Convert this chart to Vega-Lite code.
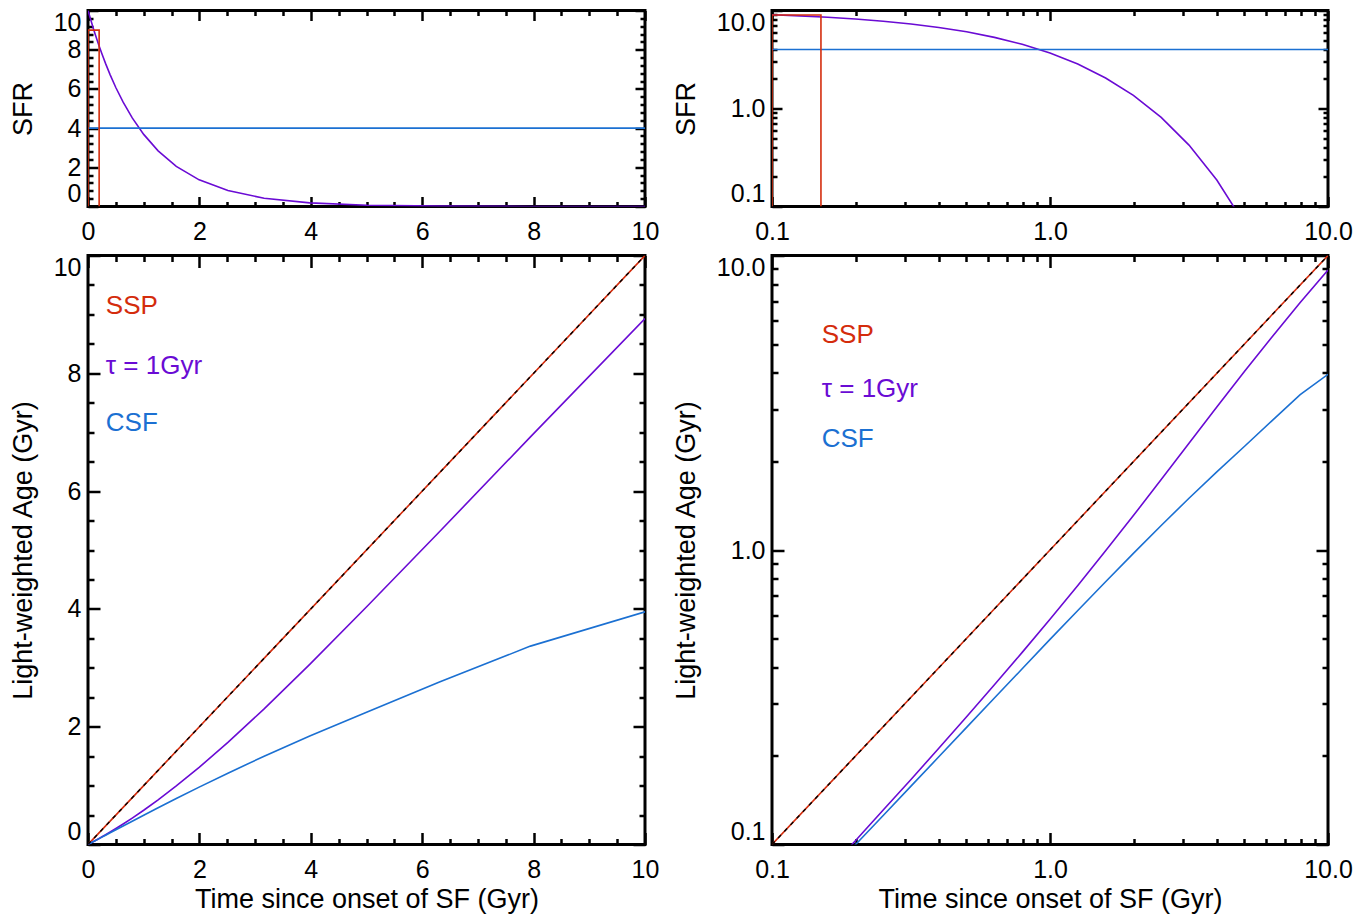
{
"$schema": "https://vega.github.io/schema/vega-lite/v6.json",
"padding": {"left": 7, "top": 7.5, "right": 5, "bottom": 5},
"background": "white",
"config": {
  "view": {"stroke": "black", "strokeWidth": 3},
  "axis": {"grid": false, "domain": false, "labelFont": "Liberation Sans", "labelFontSize": 25, "labelColor": "black",
           "titleFont": "Liberation Sans", "titleFontSize": 27, "titleFontWeight": "normal", "titleColor": "black",
           "tickColor": "black", "tickWidth": 2.5},
  "text": {"font": "Liberation Sans"}
},
"datasets": {
  "sfh": [
    {"model":"tau","t":0,"sfr":10},{"model":"tau","t":0.1,"sfr":9.048},{"model":"tau","t":0.1259,"sfr":8.817},{"model":"tau","t":0.1585,"sfr":8.534},
    {"model":"tau","t":0.1995,"sfr":8.191},{"model":"tau","t":0.2512,"sfr":7.779},{"model":"tau","t":0.3162,"sfr":7.289},{"model":"tau","t":0.3981,"sfr":6.716},
    {"model":"tau","t":0.5012,"sfr":6.058},{"model":"tau","t":0.631,"sfr":5.321},{"model":"tau","t":0.7943,"sfr":4.519},{"model":"tau","t":1.0,"sfr":3.679},
    {"model":"tau","t":1.2589,"sfr":2.84},{"model":"tau","t":1.5849,"sfr":2.05},{"model":"tau","t":1.9953,"sfr":1.36},{"model":"tau","t":2.5119,"sfr":0.811},
    {"model":"tau","t":3.1623,"sfr":0.4232},{"model":"tau","t":3.9811,"sfr":0.1866},{"model":"tau","t":5.0119,"sfr":0.0666},{"model":"tau","t":6.3096,"sfr":0.0182},
    {"model":"tau","t":7.9433,"sfr":0.00355},{"model":"tau","t":10,"sfr":0.000454},
    {"model":"CSF","t":0,"sfr":4},{"model":"CSF","t":0.1,"sfr":4},{"model":"CSF","t":10,"sfr":4}
  ],
  "box": [
    {"panel":"lin","i":1,"x":0,"y":0},{"panel":"lin","i":2,"x":0,"y":9},{"panel":"lin","i":3,"x":0.2,"y":9},{"panel":"lin","i":4,"x":0.2,"y":0},
    {"panel":"log","i":1,"x":0.1,"y":0.1},{"panel":"log","i":2,"x":0.1,"y":9},{"panel":"log","i":3,"x":0.15,"y":9},{"panel":"log","i":4,"x":0.15,"y":0.1}
  ],
  "age": [
    {"model":"SSP","t":0,"age":0},{"model":"SSP","t":0.1,"age":0.1},{"model":"SSP","t":1,"age":1},{"model":"SSP","t":10,"age":10},
    {"model":"tau","t":0,"age":0},{"model":"tau","t":0.1,"age":0.0508},{"model":"tau","t":0.1259,"age":0.0643},{"model":"tau","t":0.1585,"age":0.0814},
    {"model":"tau","t":0.1995,"age":0.103},{"model":"tau","t":0.2512,"age":0.1309},{"model":"tau","t":0.3162,"age":0.1663},{"model":"tau","t":0.3981,"age":0.2122},
    {"model":"tau","t":0.5012,"age":0.2715},{"model":"tau","t":0.631,"age":0.3485},{"model":"tau","t":0.7943,"age":0.4491},{"model":"tau","t":1,"age":0.582},
    {"model":"tau","t":1.2589,"age":0.758},{"model":"tau","t":1.5849,"age":0.9935},{"model":"tau","t":1.9953,"age":1.309},{"model":"tau","t":2.5119,"age":1.734},
    {"model":"tau","t":3.1623,"age":2.302},{"model":"tau","t":3.9811,"age":3.057},{"model":"tau","t":5.0119,"age":4.045},{"model":"tau","t":6.3096,"age":5.31},
    {"model":"tau","t":7.9433,"age":6.92},{"model":"tau","t":10,"age":8.93},
    {"model":"CSF","t":0,"age":0},{"model":"CSF","t":0.1,"age":0.05},{"model":"CSF","t":0.1259,"age":0.063},{"model":"CSF","t":0.1585,"age":0.079},
    {"model":"CSF","t":0.1995,"age":0.0998},{"model":"CSF","t":0.2512,"age":0.1254},{"model":"CSF","t":0.3162,"age":0.1578},{"model":"CSF","t":0.3981,"age":0.1985},
    {"model":"CSF","t":0.5012,"age":0.2498},{"model":"CSF","t":0.631,"age":0.3142},{"model":"CSF","t":0.7943,"age":0.3951},{"model":"CSF","t":1,"age":0.497},
    {"model":"CSF","t":1.2589,"age":0.623},{"model":"CSF","t":1.5849,"age":0.78},{"model":"CSF","t":1.9953,"age":0.974},{"model":"CSF","t":2.5119,"age":1.211},
    {"model":"CSF","t":3.1623,"age":1.499},{"model":"CSF","t":3.9811,"age":1.843},{"model":"CSF","t":5.0119,"age":2.25},{"model":"CSF","t":6.3096,"age":2.757},
    {"model":"CSF","t":7.9433,"age":3.368},{"model":"CSF","t":10,"age":3.95}
  ],
  "labels": [
    {"panel":"lin","model":"SSP","text":"SSP","x":0.32,"y":9.15},
    {"panel":"lin","model":"tau","text":"τ = 1Gyr","x":0.32,"y":8.12},
    {"panel":"lin","model":"CSF","text":"CSF","x":0.32,"y":7.15},
    {"panel":"log","model":"SSP","text":"SSP","x":0.151,"y":5.35},
    {"panel":"log","model":"tau","text":"τ = 1Gyr","x":0.151,"y":3.53},
    {"panel":"log","model":"CSF","text":"CSF","x":0.151,"y":2.39}
  ]
},
"columns": 2,
"spacing": {"row": 49, "column": 127},
"bounds": "flush",
"concat": [
  {
    "width": 557, "height": 196,
    "layer": [
      {"data": {"name": "sfh"}, "mark": {"type": "line", "clip": true, "strokeWidth": 1.6},
       "encoding": {
         "x": {"field": "t", "type": "quantitative", "scale": {"domain": [0, 10]},
               "axis": {"orient": "bottom", "values": [0,2,4,6,8,10], "format": "d", "ticks": false, "labelFlush": false, "labelPadding": 13, "title": null}},
         "y": {"field": "sfr", "type": "quantitative", "scale": {"domain": [0, 10]},
               "axis": {"orient": "left", "values": [0,2,4,6,8,10], "format": "d", "ticks": false, "labelFlush": true, "labelPadding": 7, "title": "SFR", "titlePadding": 16}},
         "color": {"field": "model", "type": "nominal", "scale": {"domain": ["SSP","tau","CSF"], "range": ["#d42c0c","#6a0bd4","#1b70d2"]}, "legend": null}}},
      {"data": {"name": "box"}, "transform": [{"filter": "datum.panel === 'lin'"}],
       "mark": {"type": "line", "clip": true, "strokeWidth": 1.6, "color": "#d42c0c"},
       "encoding": {
         "x": {"field": "x", "type": "quantitative", "scale": {"domain": [0, 10]}, "axis": null},
         "y": {"field": "y", "type": "quantitative", "scale": {"domain": [0, 10]}, "axis": null},
         "order": {"field": "i", "type": "quantitative"}}},
      {"data": {"name": "sfh"}, "transform": [{"filter": "datum.model === 'CSF'"}],
       "mark": {"type": "point", "opacity": 0, "clip": true},
       "encoding": {
         "x": {"field": "t", "type": "quantitative", "scale": {"domain": [0, 10]}, "axis": {"orient": "bottom", "values": [0,2,4,6,8,10], "labels": false, "tickSize": -10, "title": null}},
         "y": {"field": "sfr", "type": "quantitative", "scale": {"domain": [0, 10]}, "axis": {"orient": "left", "values": [0,2,4,6,8,10], "labels": false, "tickSize": -10, "title": null}}}},
      {"data": {"name": "sfh"}, "transform": [{"filter": "datum.model === 'CSF'"}],
       "mark": {"type": "point", "opacity": 0, "clip": true},
       "encoding": {
         "x": {"field": "t", "type": "quantitative", "scale": {"domain": [0, 10]}, "axis": {"orient": "top", "values": [0,2,4,6,8,10], "labels": false, "tickSize": -10, "title": null}},
         "y": {"field": "sfr", "type": "quantitative", "scale": {"domain": [0, 10]}, "axis": {"orient": "right", "values": [0,2,4,6,8,10], "labels": false, "tickSize": -10, "title": null}}}},
      {"data": {"name": "sfh"}, "transform": [{"filter": "datum.model === 'CSF'"}],
       "mark": {"type": "point", "opacity": 0, "clip": true},
       "encoding": {
         "x": {"field": "t", "type": "quantitative", "scale": {"domain": [0, 10]}, "axis": {"orient": "bottom", "values": [0.5,1,1.5,2.5,3,3.5,4.5,5,5.5,6.5,7,7.5,8.5,9,9.5], "labels": false, "tickSize": -5, "title": null}},
         "y": {"field": "sfr", "type": "quantitative", "scale": {"domain": [0, 10]}, "axis": {"orient": "left", "values": [0.4,0.8,1.2,1.6,2.4,2.8,3.2,3.6,4.4,4.8,5.2,5.6,6.4,6.8,7.2,7.6,8.4,8.8,9.2,9.6], "labels": false, "tickSize": -5, "title": null}}}},
      {"data": {"name": "sfh"}, "transform": [{"filter": "datum.model === 'CSF'"}],
       "mark": {"type": "point", "opacity": 0, "clip": true},
       "encoding": {
         "x": {"field": "t", "type": "quantitative", "scale": {"domain": [0, 10]}, "axis": {"orient": "top", "values": [0.5,1,1.5,2.5,3,3.5,4.5,5,5.5,6.5,7,7.5,8.5,9,9.5], "labels": false, "tickSize": -5, "title": null}},
         "y": {"field": "sfr", "type": "quantitative", "scale": {"domain": [0, 10]}, "axis": {"orient": "right", "values": [0.4,0.8,1.2,1.6,2.4,2.8,3.2,3.6,4.4,4.8,5.2,5.6,6.4,6.8,7.2,7.6,8.4,8.8,9.2,9.6], "labels": false, "tickSize": -5, "title": null}}}}
    ],
    "resolve": {"axis": {"x": "independent", "y": "independent"}}
  },
  {
    "width": 556, "height": 196,
    "layer": [
      {"data": {"name": "sfh"}, "transform": [{"filter": "datum.t > 0"}], "mark": {"type": "line", "clip": true, "strokeWidth": 1.6},
       "encoding": {
         "x": {"field": "t", "type": "quantitative", "scale": {"type": "log", "domain": [0.1, 10]},
               "axis": {"orient": "bottom", "values": [0.1,1,10], "format": ".1f", "ticks": false, "labelFlush": false, "labelPadding": 13, "title": null}},
         "y": {"field": "sfr", "type": "quantitative", "scale": {"type": "log", "domain": [0.1, 10]},
               "axis": {"orient": "left", "values": [0.1,1,10], "format": ".1f", "ticks": false, "labelFlush": true, "labelPadding": 7, "title": "SFR", "titlePadding": 16}},
         "color": {"field": "model", "type": "nominal", "scale": {"domain": ["SSP","tau","CSF"], "range": ["#d42c0c","#6a0bd4","#1b70d2"]}, "legend": null}}},
      {"data": {"name": "box"}, "transform": [{"filter": "datum.panel === 'log'"}],
       "mark": {"type": "line", "clip": true, "strokeWidth": 1.6, "color": "#d42c0c"},
       "encoding": {
         "x": {"field": "x", "type": "quantitative", "scale": {"type": "log", "domain": [0.1, 10]}, "axis": null},
         "y": {"field": "y", "type": "quantitative", "scale": {"type": "log", "domain": [0.1, 10]}, "axis": null},
         "order": {"field": "i", "type": "quantitative"}}},
      {"data": {"name": "sfh"}, "transform": [{"filter": "datum.model === 'CSF' && datum.t > 0"}],
       "mark": {"type": "point", "opacity": 0, "clip": true},
       "encoding": {
         "x": {"field": "t", "type": "quantitative", "scale": {"type": "log", "domain": [0.1, 10]}, "axis": {"orient": "bottom", "values": [0.1,1,10], "labels": false, "tickSize": -10, "title": null}},
         "y": {"field": "sfr", "type": "quantitative", "scale": {"type": "log", "domain": [0.1, 10]}, "axis": {"orient": "left", "values": [0.1,1,10], "labels": false, "tickSize": -10, "title": null}}}},
      {"data": {"name": "sfh"}, "transform": [{"filter": "datum.model === 'CSF' && datum.t > 0"}],
       "mark": {"type": "point", "opacity": 0, "clip": true},
       "encoding": {
         "x": {"field": "t", "type": "quantitative", "scale": {"type": "log", "domain": [0.1, 10]}, "axis": {"orient": "top", "values": [0.1,1,10], "labels": false, "tickSize": -10, "title": null}},
         "y": {"field": "sfr", "type": "quantitative", "scale": {"type": "log", "domain": [0.1, 10]}, "axis": {"orient": "right", "values": [0.1,1,10], "labels": false, "tickSize": -10, "title": null}}}},
      {"data": {"name": "sfh"}, "transform": [{"filter": "datum.model === 'CSF' && datum.t > 0"}],
       "mark": {"type": "point", "opacity": 0, "clip": true},
       "encoding": {
         "x": {"field": "t", "type": "quantitative", "scale": {"type": "log", "domain": [0.1, 10]}, "axis": {"orient": "bottom", "values": [0.2,0.3,0.4,0.5,0.6,0.7,0.8,0.9,2,3,4,5,6,7,8,9], "labels": false, "tickSize": -5, "title": null}},
         "y": {"field": "sfr", "type": "quantitative", "scale": {"type": "log", "domain": [0.1, 10]}, "axis": {"orient": "left", "values": [0.2,0.3,0.4,0.5,0.6,0.7,0.8,0.9,2,3,4,5,6,7,8,9], "labels": false, "tickSize": -5, "title": null}}}},
      {"data": {"name": "sfh"}, "transform": [{"filter": "datum.model === 'CSF' && datum.t > 0"}],
       "mark": {"type": "point", "opacity": 0, "clip": true},
       "encoding": {
         "x": {"field": "t", "type": "quantitative", "scale": {"type": "log", "domain": [0.1, 10]}, "axis": {"orient": "top", "values": [0.2,0.3,0.4,0.5,0.6,0.7,0.8,0.9,2,3,4,5,6,7,8,9], "labels": false, "tickSize": -5, "title": null}},
         "y": {"field": "sfr", "type": "quantitative", "scale": {"type": "log", "domain": [0.1, 10]}, "axis": {"orient": "right", "values": [0.2,0.3,0.4,0.5,0.6,0.7,0.8,0.9,2,3,4,5,6,7,8,9], "labels": false, "tickSize": -5, "title": null}}}}
    ],
    "resolve": {"axis": {"x": "independent", "y": "independent"}}
  },
  {
    "width": 557, "height": 589,
    "layer": [
      {"data": {"name": "age"}, "mark": {"type": "line", "clip": true, "strokeWidth": 1.6},
       "encoding": {
         "x": {"field": "t", "type": "quantitative", "scale": {"domain": [0, 10]},
               "axis": {"orient": "bottom", "values": [0,2,4,6,8,10], "format": "d", "ticks": false, "labelFlush": false, "labelPadding": 13, "title": "Time since onset of SF (Gyr)", "titlePadding": 4}},
         "y": {"field": "age", "type": "quantitative", "scale": {"domain": [0, 10]},
               "axis": {"orient": "left", "values": [0,2,4,6,8,10], "format": "d", "ticks": false, "labelFlush": true, "labelPadding": 7, "title": "Light-weighted Age (Gyr)", "titlePadding": 16}},
         "color": {"field": "model", "type": "nominal", "scale": {"domain": ["SSP","tau","CSF"], "range": ["#d42c0c","#6a0bd4","#1b70d2"]}, "legend": null}}},
      {"data": {"name": "age"}, "transform": [{"filter": "datum.model === 'SSP'"}],
       "mark": {"type": "line", "clip": true, "strokeWidth": 1.4, "color": "black", "strokeDash": [4, 5]},
       "encoding": {
         "x": {"field": "t", "type": "quantitative", "scale": {"domain": [0, 10]}, "axis": null},
         "y": {"field": "age", "type": "quantitative", "scale": {"domain": [0, 10]}, "axis": null}}},
      {"data": {"name": "labels"}, "transform": [{"filter": "datum.panel === 'lin'"}],
       "mark": {"type": "text", "align": "left", "baseline": "middle", "fontSize": 26},
       "encoding": {
         "x": {"field": "x", "type": "quantitative", "scale": {"domain": [0, 10]}, "axis": null},
         "y": {"field": "y", "type": "quantitative", "scale": {"domain": [0, 10]}, "axis": null},
         "text": {"field": "text", "type": "nominal"},
         "color": {"field": "model", "type": "nominal", "scale": {"domain": ["SSP","tau","CSF"], "range": ["#d42c0c","#6a0bd4","#1b70d2"]}, "legend": null}}},
      {"data": {"name": "age"}, "transform": [{"filter": "datum.model === 'SSP'"}],
       "mark": {"type": "point", "opacity": 0, "clip": true},
       "encoding": {
         "x": {"field": "t", "type": "quantitative", "scale": {"domain": [0, 10]}, "axis": {"orient": "bottom", "values": [0,2,4,6,8,10], "labels": false, "tickSize": -12, "title": null}},
         "y": {"field": "age", "type": "quantitative", "scale": {"domain": [0, 10]}, "axis": {"orient": "left", "values": [0,2,4,6,8,10], "labels": false, "tickSize": -12, "title": null}}}},
      {"data": {"name": "age"}, "transform": [{"filter": "datum.model === 'SSP'"}],
       "mark": {"type": "point", "opacity": 0, "clip": true},
       "encoding": {
         "x": {"field": "t", "type": "quantitative", "scale": {"domain": [0, 10]}, "axis": {"orient": "top", "values": [0,2,4,6,8,10], "labels": false, "tickSize": -12, "title": null}},
         "y": {"field": "age", "type": "quantitative", "scale": {"domain": [0, 10]}, "axis": {"orient": "right", "values": [0,2,4,6,8,10], "labels": false, "tickSize": -12, "title": null}}}},
      {"data": {"name": "age"}, "transform": [{"filter": "datum.model === 'SSP'"}],
       "mark": {"type": "point", "opacity": 0, "clip": true},
       "encoding": {
         "x": {"field": "t", "type": "quantitative", "scale": {"domain": [0, 10]}, "axis": {"orient": "bottom", "values": [0.5,1,1.5,2.5,3,3.5,4.5,5,5.5,6.5,7,7.5,8.5,9,9.5], "labels": false, "tickSize": -6, "title": null}},
         "y": {"field": "age", "type": "quantitative", "scale": {"domain": [0, 10]}, "axis": {"orient": "left", "values": [0.5,1,1.5,2.5,3,3.5,4.5,5,5.5,6.5,7,7.5,8.5,9,9.5], "labels": false, "tickSize": -6, "title": null}}}},
      {"data": {"name": "age"}, "transform": [{"filter": "datum.model === 'SSP'"}],
       "mark": {"type": "point", "opacity": 0, "clip": true},
       "encoding": {
         "x": {"field": "t", "type": "quantitative", "scale": {"domain": [0, 10]}, "axis": {"orient": "top", "values": [0.5,1,1.5,2.5,3,3.5,4.5,5,5.5,6.5,7,7.5,8.5,9,9.5], "labels": false, "tickSize": -6, "title": null}},
         "y": {"field": "age", "type": "quantitative", "scale": {"domain": [0, 10]}, "axis": {"orient": "right", "values": [0.5,1,1.5,2.5,3,3.5,4.5,5,5.5,6.5,7,7.5,8.5,9,9.5], "labels": false, "tickSize": -6, "title": null}}}}
    ],
    "resolve": {"axis": {"x": "independent", "y": "independent"}}
  },
  {
    "width": 556, "height": 589,
    "layer": [
      {"data": {"name": "age"}, "transform": [{"filter": "datum.t > 0"}], "mark": {"type": "line", "clip": true, "strokeWidth": 1.6},
       "encoding": {
         "x": {"field": "t", "type": "quantitative", "scale": {"type": "log", "domain": [0.1, 10]},
               "axis": {"orient": "bottom", "values": [0.1,1,10], "format": ".1f", "ticks": false, "labelFlush": false, "labelPadding": 13, "title": "Time since onset of SF (Gyr)", "titlePadding": 4}},
         "y": {"field": "age", "type": "quantitative", "scale": {"type": "log", "domain": [0.1, 10]},
               "axis": {"orient": "left", "values": [0.1,1,10], "format": ".1f", "ticks": false, "labelFlush": true, "labelPadding": 7, "title": "Light-weighted Age (Gyr)", "titlePadding": 16}},
         "color": {"field": "model", "type": "nominal", "scale": {"domain": ["SSP","tau","CSF"], "range": ["#d42c0c","#6a0bd4","#1b70d2"]}, "legend": null}}},
      {"data": {"name": "age"}, "transform": [{"filter": "datum.model === 'SSP' && datum.t > 0"}],
       "mark": {"type": "line", "clip": true, "strokeWidth": 1.4, "color": "black", "strokeDash": [4, 5]},
       "encoding": {
         "x": {"field": "t", "type": "quantitative", "scale": {"type": "log", "domain": [0.1, 10]}, "axis": null},
         "y": {"field": "age", "type": "quantitative", "scale": {"type": "log", "domain": [0.1, 10]}, "axis": null}}},
      {"data": {"name": "labels"}, "transform": [{"filter": "datum.panel === 'log'"}],
       "mark": {"type": "text", "align": "left", "baseline": "middle", "fontSize": 26},
       "encoding": {
         "x": {"field": "x", "type": "quantitative", "scale": {"type": "log", "domain": [0.1, 10]}, "axis": null},
         "y": {"field": "y", "type": "quantitative", "scale": {"type": "log", "domain": [0.1, 10]}, "axis": null},
         "text": {"field": "text", "type": "nominal"},
         "color": {"field": "model", "type": "nominal", "scale": {"domain": ["SSP","tau","CSF"], "range": ["#d42c0c","#6a0bd4","#1b70d2"]}, "legend": null}}},
      {"data": {"name": "age"}, "transform": [{"filter": "datum.model === 'SSP' && datum.t > 0"}],
       "mark": {"type": "point", "opacity": 0, "clip": true},
       "encoding": {
         "x": {"field": "t", "type": "quantitative", "scale": {"type": "log", "domain": [0.1, 10]}, "axis": {"orient": "bottom", "values": [0.1,1,10], "labels": false, "tickSize": -12, "title": null}},
         "y": {"field": "age", "type": "quantitative", "scale": {"type": "log", "domain": [0.1, 10]}, "axis": {"orient": "left", "values": [0.1,1,10], "labels": false, "tickSize": -12, "title": null}}}},
      {"data": {"name": "age"}, "transform": [{"filter": "datum.model === 'SSP' && datum.t > 0"}],
       "mark": {"type": "point", "opacity": 0, "clip": true},
       "encoding": {
         "x": {"field": "t", "type": "quantitative", "scale": {"type": "log", "domain": [0.1, 10]}, "axis": {"orient": "top", "values": [0.1,1,10], "labels": false, "tickSize": -12, "title": null}},
         "y": {"field": "age", "type": "quantitative", "scale": {"type": "log", "domain": [0.1, 10]}, "axis": {"orient": "right", "values": [0.1,1,10], "labels": false, "tickSize": -12, "title": null}}}},
      {"data": {"name": "age"}, "transform": [{"filter": "datum.model === 'SSP' && datum.t > 0"}],
       "mark": {"type": "point", "opacity": 0, "clip": true},
       "encoding": {
         "x": {"field": "t", "type": "quantitative", "scale": {"type": "log", "domain": [0.1, 10]}, "axis": {"orient": "bottom", "values": [0.2,0.3,0.4,0.5,0.6,0.7,0.8,0.9,2,3,4,5,6,7,8,9], "labels": false, "tickSize": -6, "title": null}},
         "y": {"field": "age", "type": "quantitative", "scale": {"type": "log", "domain": [0.1, 10]}, "axis": {"orient": "left", "values": [0.2,0.3,0.4,0.5,0.6,0.7,0.8,0.9,2,3,4,5,6,7,8,9], "labels": false, "tickSize": -6, "title": null}}}},
      {"data": {"name": "age"}, "transform": [{"filter": "datum.model === 'SSP' && datum.t > 0"}],
       "mark": {"type": "point", "opacity": 0, "clip": true},
       "encoding": {
         "x": {"field": "t", "type": "quantitative", "scale": {"type": "log", "domain": [0.1, 10]}, "axis": {"orient": "top", "values": [0.2,0.3,0.4,0.5,0.6,0.7,0.8,0.9,2,3,4,5,6,7,8,9], "labels": false, "tickSize": -6, "title": null}},
         "y": {"field": "age", "type": "quantitative", "scale": {"type": "log", "domain": [0.1, 10]}, "axis": {"orient": "right", "values": [0.2,0.3,0.4,0.5,0.6,0.7,0.8,0.9,2,3,4,5,6,7,8,9], "labels": false, "tickSize": -6, "title": null}}}}
    ],
    "resolve": {"axis": {"x": "independent", "y": "independent"}}
  }
]
}
